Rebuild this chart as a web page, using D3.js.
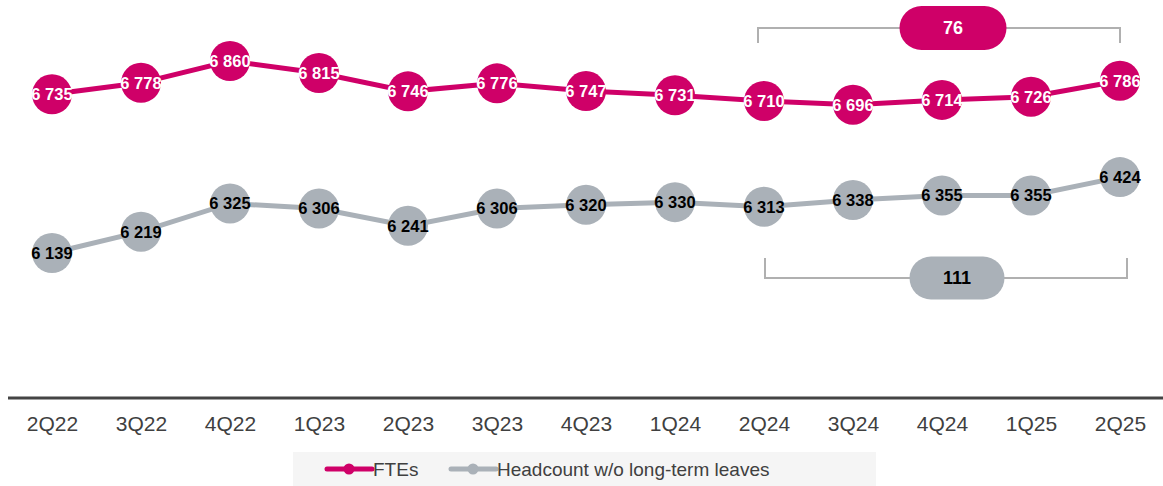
<!DOCTYPE html>
<html><head><meta charset="utf-8">
<script src="https://cdn.jsdelivr.net/npm/d3@7"></script>
<style>body{margin:0;background:#fff;}svg{display:block;font-family:"Liberation Sans",Arial,sans-serif;}</style>
</head><body>
<svg id="chart" width="1163" height="486"></svg>
<script>
const categories = ["2Q22","3Q22","4Q22","1Q23","2Q23","3Q23","4Q23","1Q24","2Q24","3Q24","4Q24","1Q25","2Q25"];
const ftes = [6735,6778,6860,6815,6746,6776,6747,6731,6710,6696,6714,6726,6786];
const headcount = [6139,6219,6325,6306,6241,6306,6320,6330,6313,6338,6355,6355,6424];
const seriesNames = ["FTEs","Headcount w/o long-term leaves"];
const fteDelta = "76";
const hcDelta = "111";

const pink = "#cf0068", grey = "#aab1b8", axisCol = "#444", textCol = "#404040";
const svg = d3.select("#chart");
const x = d3.scalePoint().domain(categories).range([52,1120]);
const y = d3.scaleLinear().domain([6139,6860]).range([253,61]);
const fmt = v => { const s = String(v); return s.slice(0, s.length-3) + " " + s.slice(-3); };

// axis
const axis = d3.axisBottom(x).tickSize(0).tickPadding(18);
const gA = svg.append("g").attr("transform","translate(0,398)").call(axis);
gA.select(".domain").remove();
svg.append("line").attr("x1",8).attr("x2",1163).attr("y1",398).attr("y2",398).attr("stroke",axisCol).attr("stroke-width",3);
gA.selectAll("text").attr("font-size",21).attr("fill",textCol).attr("font-family","Liberation Sans, Arial, sans-serif");

function drawSeries(data, color, labelColor){
  const line = d3.line().x((d,i)=>x(categories[i])).y(d=>y(d));
  svg.append("path").datum(data).attr("d",line).attr("fill","none").attr("stroke",color).attr("stroke-width",5);
  const g = svg.append("g");
  g.selectAll("circle").data(data).join("circle")
    .attr("cx",(d,i)=>x(categories[i])).attr("cy",d=>y(d)).attr("r",20).attr("fill",color);
  g.selectAll("text").data(data).join("text")
    .attr("x",(d,i)=>x(categories[i])).attr("y",d=>y(d)).attr("dy","0.36em")
    .attr("text-anchor","middle").attr("font-size",16.5).attr("font-weight","bold").attr("fill",labelColor)
    .text(d=>fmt(d));
}
drawSeries(headcount, grey, "#000");
drawSeries(ftes, pink, "#fff");

// annotations
function bracket(x1,x2,yh,yEnd,pillCx,pillW,pillH,color,label,labelCol){
  svg.append("path").attr("d",`M${x1},${yEnd}V${yh}H${x2}V${yEnd}`).attr("fill","none").attr("stroke","#b0b0b0").attr("stroke-width",2);
  svg.append("rect").attr("x",pillCx-pillW/2).attr("y",yh-pillH/2).attr("width",pillW).attr("height",pillH)
    .attr("rx",pillH/2).attr("fill",color);
  svg.append("text").attr("x",pillCx).attr("y",yh).attr("dy","0.36em").attr("text-anchor","middle")
    .attr("font-size",18).attr("font-weight","bold").attr("fill",labelCol).text(label);
}
bracket(x("2Q24")-6, x("2Q25"), 28, 43, 953, 107, 44, pink, fteDelta, "#fff");
bracket(x("2Q24")+1, x("2Q25")+7, 278, 258, 957, 95, 43, grey, hcDelta, "#000");

// legend
const lg = svg.append("g");
lg.append("rect").attr("x",293).attr("y",452).attr("width",583).attr("height",34).attr("fill","#f5f5f5");
const items = [{name:seriesNames[0],color:pink,x0:327},{name:seriesNames[1],color:grey,x0:451}];
items.forEach(it=>{
  lg.append("line").attr("x1",it.x0).attr("x2",it.x0+45).attr("y1",469).attr("y2",469).attr("stroke",it.color).attr("stroke-width",5).attr("stroke-linecap","round");
  lg.append("circle").attr("cx",it.x0+22).attr("cy",469).attr("r",5.5).attr("fill",it.color);
  lg.append("text").attr("x",it.x0+46).attr("y",469).attr("dy","0.36em").attr("font-size",19).attr("fill",textCol).text(it.name);
});
</script>
</body></html>
